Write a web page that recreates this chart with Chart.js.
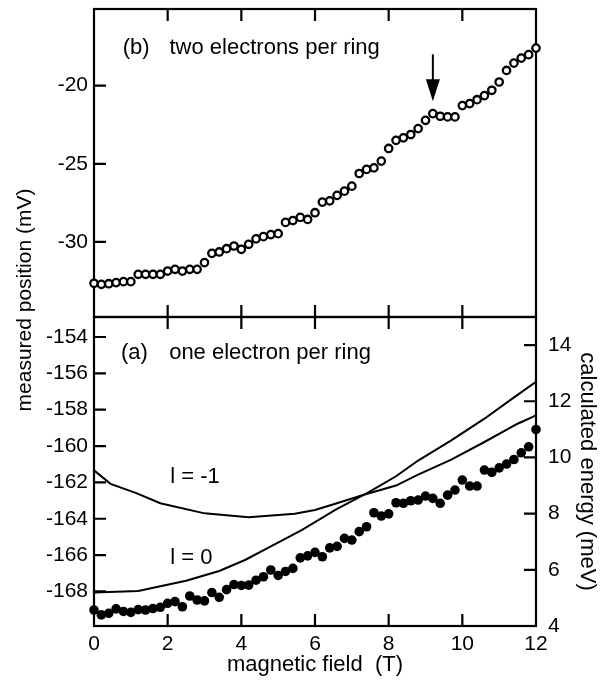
<!DOCTYPE html>
<html lang="en">
<head>
<meta charset="UTF-8">
<title>measured position vs magnetic field</title>
<style>
  body { margin: 0; background: #fff; }
  #wrap { position: relative; width: 602px; height: 680px; }
  #wrap canvas { position: absolute; left: 0; top: 0; }
</style>
</head>
<body>
<div id="wrap">
  <canvas id="topChart" width="602" height="680"></canvas>
  <canvas id="bottomChart" width="602" height="680"></canvas>
</div>

<script src="https://cdn.jsdelivr.net/npm/chart.js"></script>
<script>
// magnetic field (T), same sampling for both panels
const field = [0, 0.2, 0.4, 0.6, 0.8, 1, 1.2, 1.4, 1.6, 1.8, 2, 2.2, 2.4, 2.6, 2.8, 3, 3.2, 3.4, 3.6, 3.8,
  4, 4.2, 4.4, 4.6, 4.8, 5, 5.2, 5.4, 5.6, 5.8, 6, 6.2, 6.4, 6.6, 6.8, 7, 7.2, 7.4, 7.6, 7.8,
  8, 8.2, 8.4, 8.6, 8.8, 9, 9.2, 9.4, 9.6, 9.8, 10, 10.2, 10.4, 10.6, 10.8, 11, 11.2, 11.4, 11.6, 11.8, 12];

// (b) two electrons per ring, measured position (mV)
const twoElectrons = [-32.64, -32.71, -32.67, -32.6, -32.54, -32.54, -32.07, -32.07, -32.07, -32.07,
  -31.86, -31.75, -31.86, -31.75, -31.75, -31.32, -30.73, -30.64, -30.43, -30.26,
  -30.47, -30.15, -29.8, -29.66, -29.53, -29.47, -28.75, -28.63, -28.43, -28.56,
  -28.13, -27.45, -27.37, -27.02, -26.75, -26.43, -25.62, -25.36, -25.26, -24.83,
  -24.02, -23.5, -23.34, -23.13, -22.75, -22.22, -21.79, -21.96, -22.0, -22.0,
  -21.28, -21.15, -20.9, -20.64, -20.3, -19.77, -19.03, -18.56, -18.24, -18.02, -17.6];

// (a) one electron per ring, measured position (mV)
const oneElectron = [-169.02, -169.29, -169.2, -168.96, -169.1, -169.15, -169.0, -169.02, -168.94, -168.87,
  -168.65, -168.56, -168.84, -168.25, -168.47, -168.52, -168.06, -168.32, -167.9, -167.62,
  -167.67, -167.65, -167.38, -167.19, -166.82, -167.12, -166.9, -166.73, -166.15, -166.04,
  -165.85, -166.09, -165.6, -165.52, -165.08, -165.17, -164.71, -164.44, -163.67, -163.85,
  -163.73, -163.12, -163.15, -163.01, -162.97, -162.75, -162.88, -163.15, -162.7, -162.42,
  -161.87, -162.2, -162.2, -161.32, -161.45, -161.2, -160.99, -160.74, -160.37, -160.04, -159.09];

// calculated energy (meV)
const levelZeroField = [0, 1.2, 2.5, 3.4, 4.1, 4.75, 5.65, 6.55, 7.45, 8.2, 8.8, 9.7, 10.6, 11.3, 12];
const levelZeroEnergy = [5.19, 5.25, 5.61, 5.96, 6.35, 6.8, 7.42, 8.13, 8.76, 9.33, 9.89, 10.61, 11.38, 12.04, 12.69];
const levelMinusField = [0, 0.45, 1.15, 1.8, 3.0, 4.2, 5.45, 6.0, 6.55, 7.35, 8.2, 8.8, 9.7, 10.6, 11.5, 12];
const levelMinusEnergy = [9.54, 9.06, 8.73, 8.37, 8.01, 7.87, 8.0, 8.13, 8.35, 8.68, 9.0, 9.39, 9.92, 10.55, 11.2, 11.5];

const fieldTicks = [0, 2, 4, 6, 8, 10, 12];
const topTicks = [-30, -25, -20];
const bottomTicks = [-168, -166, -164, -162, -160, -158, -156, -154];
const energyTicks = [4, 6, 8, 10, 12, 14];

Chart.defaults.font.family = "'Liberation Sans', Arial, Helvetica, sans-serif";
Chart.defaults.color = '#000';

const TICK_LEN = 12;
const innerTicks = fieldTicks.slice(1, -1);
const noGrid = { display: false, drawTicks: false };

function useTicks(values) {
  return (scale) => { scale.ticks = values.map(v => ({ value: v })); };
}

// box round the plot with tick marks pointing inwards
function framePlugin(xValues, yList) {
  return {
    id: 'frame',
    beforeDatasetsDraw(chart) {
      const { ctx, chartArea: a, scales } = chart;
      ctx.save();
      ctx.strokeStyle = '#000';
      ctx.lineWidth = 2.2;
      ctx.strokeRect(a.left, a.top, a.right - a.left, a.bottom - a.top);
      ctx.beginPath();
      xValues.forEach(v => {
        const px = scales.x.getPixelForValue(v);
        ctx.moveTo(px, a.top); ctx.lineTo(px, a.top + TICK_LEN);
        ctx.moveTo(px, a.bottom); ctx.lineTo(px, a.bottom - TICK_LEN);
      });
      yList.forEach(([axis, side, values]) => {
        const edge = side === 'right' ? a.right : a.left;
        const dir = side === 'right' ? -1 : 1;
        values.forEach(v => {
          const py = scales[axis].getPixelForValue(v);
          ctx.moveTo(edge, py); ctx.lineTo(edge + dir * TICK_LEN, py);
        });
      });
      ctx.stroke();
      ctx.restore();
    }
  };
}

// text labels placed in data units
function textPlugin(items, extra) {
  return {
    id: 'texts',
    afterDraw(chart) {
      const { ctx, scales } = chart;
      ctx.save();
      ctx.fillStyle = '#000';
      ctx.textBaseline = 'middle';
      ctx.textAlign = 'left';
      ctx.font = "22px 'Liberation Sans', Arial, sans-serif";
      items.forEach(([text, x, y, axis]) => {
        ctx.fillText(text, scales.x.getPixelForValue(x), scales[axis].getPixelForValue(y));
      });
      if (extra) extra(chart);
      ctx.restore();
    }
  };
}

const topCfg = {
  type: 'scatter',
  data: {
    datasets: [{
      data: field.map((x, i) => ({ x, y: twoElectrons[i] })),
      pointRadius: 3.7,
      borderWidth: 2.3,
      borderColor: '#000',
      backgroundColor: '#fff',
      clip: false
    }]
  },
  options: {
    responsive: false,
    animation: false,
    layout: { padding: { top: 9, right: 66, bottom: 363, left: 0 } },
    plugins: { legend: { display: false }, tooltip: { enabled: false } },
    scales: {
      x: { type: 'linear', min: 0, max: 12, display: false },
      y: {
        min: -34.8, max: -15.1,
        grid: noGrid,
        border: { display: false },
        ticks: { padding: 6, font: { size: 21 } },
        afterBuildTicks: useTicks(topTicks),
        afterFit: (s) => { s.width = 94; s.paddingTop = 0; s.paddingBottom = 0; }
      }
    }
  },
  plugins: [
    framePlugin(innerTicks, [['y', 'left', topTicks]]),
    textPlugin([
      ['(b)', 0.78, -17.57, 'y'],
      ['two electrons per ring', 2.05, -17.57, 'y']
    ], (chart) => {
      // arrow marking the plateau
      const { ctx, scales } = chart;
      const ax = scales.x.getPixelForValue(9.2);
      const y0 = scales.y.getPixelForValue(-18.0);
      const y1 = scales.y.getPixelForValue(-21.0);
      ctx.strokeStyle = '#000';
      ctx.lineWidth = 2;
      ctx.beginPath();
      ctx.moveTo(ax, y0); ctx.lineTo(ax, y1 - 18);
      ctx.stroke();
      ctx.beginPath();
      ctx.moveTo(ax - 7, y1 - 22); ctx.lineTo(ax + 7, y1 - 22); ctx.lineTo(ax, y1);
      ctx.closePath();
      ctx.fill();
      // shared left axis title
      ctx.save();
      ctx.translate(25, 300);
      ctx.rotate(-Math.PI / 2);
      ctx.textAlign = 'center';
      ctx.font = "21px 'Liberation Sans', Arial, sans-serif";
      ctx.fillText('measured position (mV)', 0, 0);
      ctx.restore();
    })
  ]
};

const bottomCfg = {
  type: 'scatter',
  data: {
    datasets: [{
      data: field.map((x, i) => ({ x, y: oneElectron[i] })),
      yAxisID: 'y',
      pointRadius: 4.8,
      borderWidth: 0,
      backgroundColor: '#000',
      clip: false
    }, {
      data: levelZeroField.map((x, i) => ({ x, y: levelZeroEnergy[i] })),
      yAxisID: 'y2',
      showLine: true,
      pointRadius: 0,
      borderWidth: 2,
      borderColor: '#000',
      tension: 0
    }, {
      data: levelMinusField.map((x, i) => ({ x, y: levelMinusEnergy[i] })),
      yAxisID: 'y2',
      showLine: true,
      pointRadius: 0,
      borderWidth: 2,
      borderColor: '#000',
      tension: 0
    }]
  },
  options: {
    responsive: false,
    animation: false,
    layout: { padding: { top: 317, right: 0, bottom: 0, left: 0 } },
    plugins: { legend: { display: false }, tooltip: { enabled: false } },
    scales: {
      x: {
        type: 'linear', min: 0, max: 12,
        grid: noGrid,
        border: { display: false },
        ticks: { padding: 6, font: { size: 21 } },
        afterBuildTicks: useTicks(fieldTicks),
        afterFit: (s) => { s.height = 54; },
        title: { display: true, text: 'magnetic field  (T)', font: { size: 22 }, padding: { top: 0, bottom: 2 } }
      },
      y: {
        position: 'left',
        min: -169.9, max: -152.9,
        grid: noGrid,
        border: { display: false },
        ticks: { padding: 6, font: { size: 21 } },
        afterBuildTicks: useTicks(bottomTicks),
        afterFit: (s) => { s.width = 94; }
      },
      y2: {
        position: 'right',
        min: 4, max: 15,
        grid: noGrid,
        border: { display: false },
        ticks: { padding: 12, font: { size: 21 } },
        afterBuildTicks: useTicks(energyTicks),
        afterFit: (s) => { s.width = 66; },
        title: { display: true, text: 'calculated energy (meV)', font: { size: 22 }, padding: { top: 2, bottom: 0 } }
      }
    }
  },
  plugins: [
    framePlugin(innerTicks, [['y', 'left', bottomTicks], ['y2', 'right', energyTicks.slice(1)]]),
    textPlugin([
      ['(a)', 0.73, -154.9, 'y'],
      ['one electron per ring', 2.04, -154.9, 'y'],
      ['l = -1', 2.07, -161.71, 'y'],
      ['l = 0', 2.07, -166.16, 'y']
    ])
  ]
};

new Chart(document.getElementById('topChart'), topCfg);
new Chart(document.getElementById('bottomChart'), bottomCfg);
</script>
</body>
</html>
